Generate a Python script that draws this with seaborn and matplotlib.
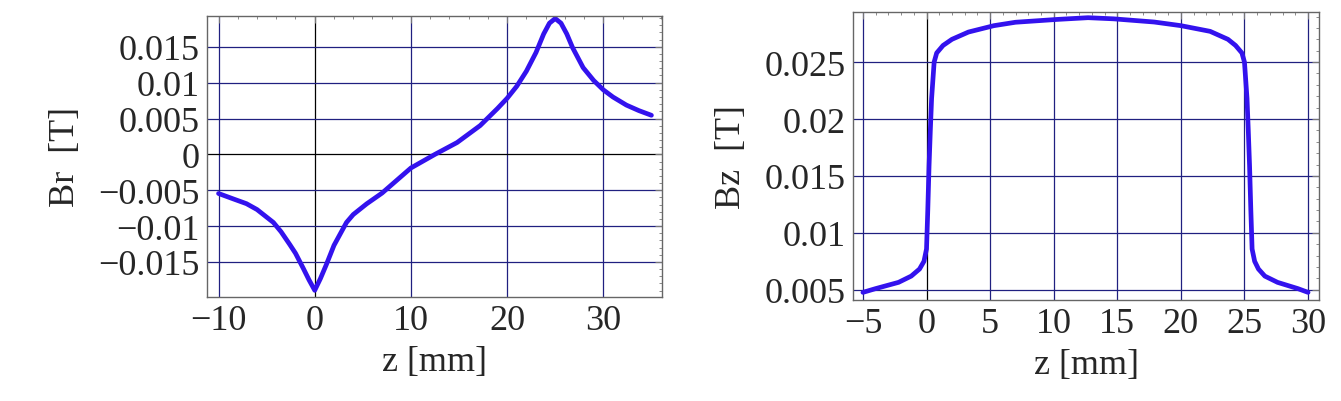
import numpy as np
import pandas as pd
import matplotlib
matplotlib.use("Agg")
import matplotlib.pyplot as plt
import seaborn as sns
from matplotlib.ticker import AutoMinorLocator

# Left panel: Br vs z
br_z = [-10, -8.5, -7.1, -6, -4.3, -3.5, -2.6, -2, -1.2, -0.6, 0, 0.6, 1.2, 2, 3.3, 4, 5.4, 7, 10, 12.5,
        14.8, 17.2, 19, 20, 21, 22, 23, 23.8, 24.4, 25, 25.6, 26.2, 26.8, 27.9, 29, 30, 31, 32.4, 33.7, 35]
br_v = [-0.00546, -0.0062, -0.00688, -0.0077, -0.0095, -0.0108, -0.01257, -0.0138, -0.01588, -0.0175,
        -0.01897, -0.0173, -0.0154, -0.0127, -0.0095, -0.0084, -0.0069, -0.0054, -0.0019, 0.0000,
        0.00165, 0.00402, 0.0064, 0.00782, 0.0095, 0.0116, 0.0142, 0.0168, 0.0183, 0.01895, 0.0183,
        0.0168, 0.0149, 0.0121, 0.0103, 0.0090, 0.0080, 0.00687, 0.0061, 0.00545]
br_yticks = [-0.015, -0.01, -0.005, 0, 0.005, 0.01, 0.015]
br_yticklabels = ["\u22120.015", "\u22120.01", "\u22120.005", "0", "0.005", "0.01", "0.015"]
br_xticks = [-10, 0, 10, 20, 30]
br_xticklabels = ["\u221210", "0", "10", "20", "30"]

# Right panel: Bz vs z
bz_z = [-5, -4, -2.2, -1.2, -0.55, -0.2, 0.0, 0.1, 0.2, 0.3, 0.4, 0.6, 0.8, 1.3, 2, 3.3, 5.3, 7, 10.3,
        12.7, 14.7, 17.9, 20, 22.3, 23.7, 24.3, 24.8, 25.0, 25.2, 25.3, 25.4, 25.5, 25.6, 25.8, 26.1,
        26.6, 27.6, 29.2, 30]
bz_v = [0.00477, 0.0051, 0.00565, 0.0062, 0.00682, 0.0075, 0.00858, 0.0120, 0.0159, 0.0190, 0.0218,
        0.0250, 0.0258, 0.02646, 0.0270, 0.02764, 0.0282, 0.0285, 0.02875, 0.0289, 0.0288, 0.02852,
        0.0282, 0.0277, 0.0270, 0.02646, 0.0258, 0.0250, 0.0218, 0.0190, 0.0159, 0.0120, 0.00858,
        0.0075, 0.00682, 0.0062, 0.00565, 0.0051, 0.00477]
bz_yticks = [0.005, 0.01, 0.015, 0.02, 0.025]
bz_yticklabels = ["0.005", "0.01", "0.015", "0.02", "0.025"]
bz_xticks = [-5, 0, 5, 10, 15, 20, 25, 30]
bz_xticklabels = ["\u22125", "0", "5", "10", "15", "20", "25", "30"]

sns.set_style("white")
plt.rcParams["font.family"] = ["Liberation Serif", "DejaVu Serif"]

W, H = 1341, 402
fig = plt.figure(figsize=(W / 100, H / 100), dpi=100)

def box(l, t, r, b):
    return [l / W, 1 - b / H, (r - l) / W, (b - t) / H]

ax1 = fig.add_axes(box(207, 17, 662, 298))
ax2 = fig.add_axes(box(853, 13, 1319, 301))

line_color = "#3312ee"
grid_color = "#202080"
FS = 26

def style(ax, z, v, xlim, ylim, xt, xtl, yt, ytl, ylabel, zero_y):
    sns.lineplot(x=z, y=v, ax=ax, color=line_color, lw=3.4, sort=False)
    ax.set_xlim(*xlim)
    ax.set_ylim(*ylim)
    for x in xt:
        ax.axvline(x, color="black" if x == 0 else grid_color, lw=0.9, zorder=0)
    for y in yt:
        ax.axhline(y, color="black" if (zero_y and y == 0) else grid_color, lw=0.9, zorder=0)
    ax.set_xticks(xt)
    ax.set_xticklabels(xtl, fontsize=FS)
    ax.set_yticks(yt)
    ax.set_yticklabels(ytl, fontsize=FS)
    ax.xaxis.set_minor_locator(AutoMinorLocator(5))
    ax.yaxis.set_minor_locator(AutoMinorLocator(5))
    ax.tick_params(which="both", direction="in", top=True, right=True, color="#777777")
    ax.tick_params(which="major", length=5, width=0.8, pad=5)
    ax.tick_params(which="minor", length=2.5, width=0.6)
    for s in ax.spines.values():
        s.set_color("#666666")
        s.set_linewidth(1.0)
    ax.set_xlabel("z [mm]", fontsize=FS, labelpad=6)
    ax.set_ylabel(ylabel, fontsize=FS, labelpad=12)

style(ax1, br_z, br_v, (-11.2, 36.1), (-0.0199, 0.0193), br_xticks, br_xticklabels,
      br_yticks, br_yticklabels, "Br  [T]", True)
style(ax2, bz_z, bz_v, (-5.78, 30.86), (0.0041, 0.0294), bz_xticks, bz_xticklabels,
      bz_yticks, bz_yticklabels, "Bz  [T]", False)

fig.savefig("out.png", dpi=100)
